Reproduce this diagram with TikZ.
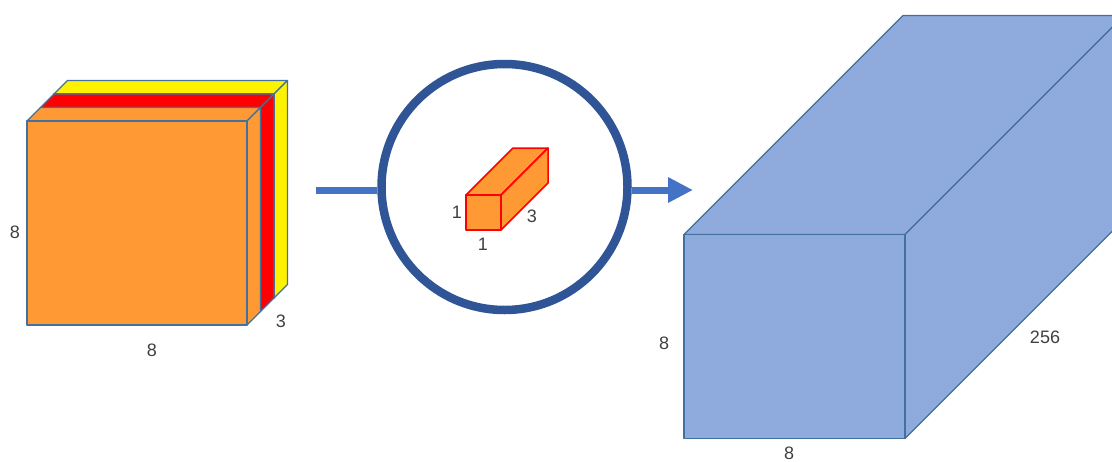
\documentclass[tikz,border=0pt]{standalone}
\usepackage{fontspec}
\setmainfont{Liberation Sans}
\usetikzlibrary{arrows.meta}
\definecolor{edgeblue}{HTML}{41719C}
\definecolor{boxblue}{HTML}{8FAADC}
\definecolor{arrowblue}{HTML}{4472C4}
\definecolor{ringblue}{HTML}{2F5597}
\definecolor{orng}{HTML}{FF9933}
\definecolor{txt}{HTML}{404040}
\newcommand\mycuboid[6]{%
  \filldraw[#6] (#1,#2) -- ++(#5,-#5) -- ++(#3,0) -- ++(-#5,#5) -- cycle;
  \filldraw[#6] (#1,#2) ++(#3,0) -- ++(#5,-#5) -- ++(0,#4) -- ++(-#5,#5) -- cycle;
  \filldraw[#6] (#1,#2) rectangle ++(#3,#4);}
\tikzset{
  lbl/.style={text=txt, font=\fontsize{18}{20}\selectfont, inner sep=0pt},
  slab/.style={draw=edgeblue, line width=1.3pt, line join=round},
  bigbox/.style={fill=boxblue, draw=edgeblue, line width=1.3pt, line join=round},
  kernel/.style={fill=orng, draw=red, line width=1.5pt, line join=round},
  flow/.style={draw=arrowblue, line width=7pt},
}
\begin{document}
\begin{tikzpicture}[x=1pt,y=-1pt]
\useasboundingbox (0,0) rectangle (1112,461);
\clip (0,0) rectangle (1112,461);
% input volume 8x8x3
\mycuboid{54}{94}{220}{204}{13.5}{slab, fill=yellow}
\mycuboid{40.5}{107.5}{220}{204}{13.5}{slab, fill=red}
\mycuboid{27}{121}{220}{204}{13.5}{slab, fill=orng}
\node[lbl] (inh) at (15,232) {8};
\node[lbl] (inw) at (152,350) {8};
\node[lbl] (ind) at (281,321) {3};
% kernel circle
\node[circle, draw=ringblue, line width=8.5pt, minimum size=246pt, inner sep=0pt] (ring) at (504.5,187) {};
\mycuboid{466}{195}{35}{35}{47}{kernel}
\node[lbl] (kh) at (457,212) {1};
\node[lbl] (kw) at (483,244) {1};
\node[lbl] (kd) at (532,216) {3};
% arrows
\coordinate (start) at (316,190);
\coordinate (tip) at (693,190);
\draw[flow] (start) -- (start -| ring.west);
\draw[flow, -{Triangle[length=25pt,width=24pt]}] (tip -| ring.east) -- (tip);
% output volume 8x8x256
\mycuboid{684}{234.5}{221}{204}{219}{bigbox}
\node[lbl] (oh) at (664,343) {8};
\node[lbl] (ow) at (789,453) {8};
\node[lbl] (od) at (1045,337) {256};
\end{tikzpicture}
\end{document}
